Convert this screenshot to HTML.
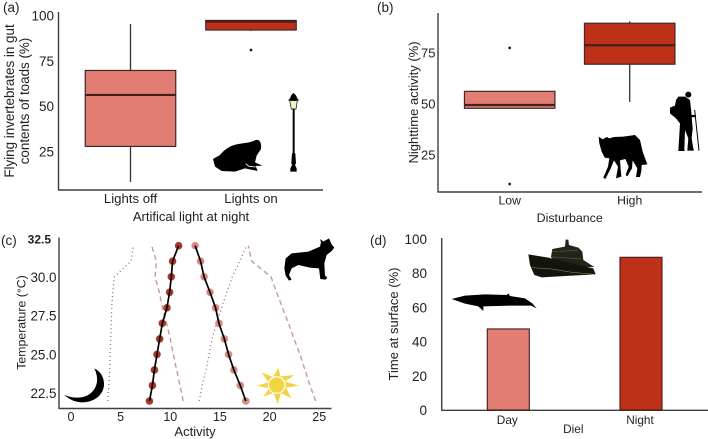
<!DOCTYPE html>
<html lang="en">
<head>
<meta charset="utf-8">
<title>Four-panel ecology chart</title>
<style>
html,body{margin:0;padding:0;background:#fff;width:708px;height:439px;overflow:hidden}
svg{display:block;font-family:"Liberation Sans",Arial,sans-serif;fill:#2b2b2b;filter:blur(0.35px)}
text{fill:#222}
</style>
</head>
<body>
<svg id="figure" xmlns="http://www.w3.org/2000/svg" width="708" height="439" viewBox="0 0 708 439">
  <rect x="0" y="0" width="708" height="439" style="fill:#fff"/>
  <g id="layer-a"></g>
  <g id="layer-b"></g>
  <g id="layer-c"></g>
  <g id="layer-d"></g>

  <g transform="translate(205,85) scale(0.3333)">
    <path style="fill:#000" d="M24,222 L45,210 C60,192 75,182 95,178 C115,174 135,174 152,165 C165,162 170,175 168,192 L155,212 L150,232 L172,242 L152,243 L158,258 L120,250 L90,260 L50,258 L30,245 Z"/>
    <polyline style="fill:none;stroke:#fff;stroke-width:2.5" points="122,236 132,244 152,246"/>
  </g>
  <g transform="translate(205,85) scale(0.3333)">
    <rect style="fill:#000" x="263" y="70" width="6" height="145"/>
    <polygon style="fill:#000" points="261,205 271,205 273,235 270,240 275,250 275,260 256,260 256,250 261,240 259,235"/>
    <polygon style="fill:#000" points="265,24 272,30 278,42 283,46 249,46 255,40 259,30"/>
    <polygon style="fill:#f4f1c6;stroke:#000;stroke-width:2" points="254,47 277,47 273,72 259,72"/>
  </g>
  <g transform="translate(590,85) scale(0.3333)">
    <polygon style="fill:#000" points="26,155 38,163 50,156 58,160 72,156 100,155 135,150 150,165 158,200 172,238 155,240 154,258 150,276 138,276 142,250 128,226 126,250 112,274 107,270 116,245 106,222 90,226 94,275 78,280 84,245 72,226 60,255 46,282 40,278 54,245 58,220 44,218 35,200 28,175"/>
  </g>
  <g transform="translate(590,85) scale(0.3333)">
    <circle style="fill:#000" cx="295" cy="29" r="9"/>
    <polygon style="fill:#000" points="265,35 285,35 300,45 305,90 318,90 318,96 305,97 308,130 305,160 310,190 312,197 292,197 295,160 285,135 283,195 285,198 265,198 268,150 270,115 258,100 240,85 240,68 255,62 258,45"/>
    <line style="stroke:#000;stroke-width:3" x1="314" y1="75" x2="327" y2="197"/>
  </g>
  <g transform="translate(195,235) scale(0.3333)">
    <polygon style="fill:#000" points="375,12 385,20 402,10 410,28 418,38 410,48 395,60 388,85 390,122 397,127 392,134 376,132 372,100 345,98 310,90 290,100 282,120 290,134 282,137 272,122 268,100 272,70 290,55 340,50 375,35 378,22"/>
  </g>
  <g transform="translate(195,235) scale(0.3333)">
    <polygon style="fill:#f2d443" points="250,398 256,424 298,420 270,440 312,452 272,458 290,490 258,474 248,508 236,474 205,485 222,460 185,452 220,442 200,412 234,426"/>
    <circle style="fill:#f2d443;stroke:#fff;stroke-width:3.5" cx="245" cy="450" r="25"/>
  </g>
  <g transform="translate(55,360) scale(0.3333)">
    <path style="fill:#000" d="M118,25 C150,40 158,85 130,110 C105,132 60,135 28,105 C60,118 95,115 112,95 C130,75 130,50 118,25Z"/>
  </g>
  <g transform="translate(445,235) scale(0.3333)">
    <polygon style="fill:#000" points="20,192 60,182 120,178 185,180 190,175 195,183 240,190 262,205 275,220 258,212 200,212 115,214 115,228 100,214 60,206"/>
  </g>
  <g transform="translate(445,235) scale(0.3333)">
    <polygon style="fill:#23231a" points="318,66 322,42 360,35 362,14 370,14 372,30 400,38 412,50 415,75 448,96 400,96 330,80"/>
    <polygon style="fill:#14140e" points="250,58 310,68 380,85 445,100 452,118 380,122 290,127 268,120 255,90"/>
    <polyline style="fill:none;stroke:#9d9866;stroke-width:1.5" points="262,98 320,102 380,112 448,118"/>
    <polyline style="fill:none;stroke:#8f8a5c;stroke-width:2;stroke-dasharray:3 3" points="322,50 400,46"/>
    <polyline style="fill:none;stroke:#8f8a5c;stroke-width:2;stroke-dasharray:3 3" points="322,66 412,72"/>
  </g>
</svg>
<script>
/* Panel (a) */
var lightCategories = ['Lights off', 'Lights on'];
var lightQ1 = [27.8, 92];
var lightMedian = [56.2, 96.7];
var lightQ3 = [69.7, 97.3];
var lightWhiskerLow = [8.2, 91.5];
var lightWhiskerHigh = [95.3, 97.3];
var lightOutliers = [[], [81]];
var lightTicks = [25, 50, 75, 100];

/* Panel (b) */
var disturbanceCategories = ['Low', 'High'];
var disturbanceQ1 = [47.9, 69.5];
var disturbanceMedian = [49.5, 78.8];
var disturbanceQ3 = [56.2, 89.6];
var disturbanceWhiskerLow = [47.9, 51];
var disturbanceWhiskerHigh = [56.2, 90.5];
var disturbanceOutliers = [[77.5, 10.8], []];
var disturbanceTicks = [25, 50, 75];

/* Panel (c) */
var temperatures = [22, 23, 24, 25, 26, 27, 28, 29, 30, 31, 32];
var nightMean = [7.9, 8.2, 8.4, 8.66, 8.93, 9.2, 9.66, 9.93, 10.1, 10.23, 10.84];
var dayMean = [17.6, 17.05, 16.4, 15.87, 15.44, 14.9, 14.56, 14, 13.4, 13.05, 12.5];
var nightLower = [3.7, 3.8, 3.9, 3.95, 4, 4.05, 4.1, 4.2, 4.36, 6.04, 6.28];
var nightUpper = [11.3, 10.98, 10.64, 10.3, 10, 9.63, 9.2, 8.9, 8.46, 8.6, 8.12];
var dayLower = [12.92, 13.2, 13.6, 13.9, 14.2, 14.67, 15.17, 15.68, 16.24, 17, 17.7];
var dayUpper = [24.64, 24.07, 23.56, 23.06, 22.46, 21.9, 21.3, 20.7, 20.14, 18.2, 17.86];
var activityTicks = [0, 5, 10, 15, 20, 25];
var temperatureTicks = ['22.5', '25.0', '27.5', '30.0', '32.5'];

/* Panel (d) */
var dielCategories = ['Day', 'Night'];
var dielValues = [47.4, 89.3];
var surfaceTicks = [0, 20, 40, 60, 80, 100];

var NS = 'http://www.w3.org/2000/svg';
var LIGHT = '#e27d74';
var DARK = '#bd3119';
var AXIS = '#3f3f3f';

function mk(tag, attrs, parent, txt) {
  var node = document.createElementNS(NS, tag);
  for (var k in attrs) node.setAttribute(k, attrs[k]);
  if (txt !== undefined) node.textContent = txt;
  parent.appendChild(node);
  return node;
}
function label(parent, x, y, txt, size, anchor, rotate) {
  var a = {x: x, y: y, 'font-size': size, 'text-anchor': anchor || 'middle'};
  if (rotate) a.transform = 'rotate(-90 ' + x + ' ' + y + ')';
  return mk('text', a, parent, txt);
}

var xA = function (i) { return 130.5 + i * 120.5; };
var yA = function (v) { return 151.5 - (v - 25) * 1.813; };
var xB = function (i) { return 509.7 + i * 120; };
var yB = function (v) { return 155 - (v - 25) * 2.04; };
var xC = function (v) { return 71 + v * 9.93; };
var yC = function (t) { return 401 - (t - 22) * 15.53; };
var xD = function (i) { return 508.3 + i * 132.7; };
var yD = function (v) { return 410 - v * 1.71; };

function drawAxes(g, x0, yTop, yBot, xRight) {
  var el = mk('line', {x1: x0, y1: yTop, x2: x0, y2: yBot + 0.5, stroke: AXIS, 'stroke-width': 1.4}, g);
  
  
  el = mk('line', {x1: x0, y1: yBot, x2: xRight, y2: yBot, stroke: AXIS, 'stroke-width': 1.4}, g);
  
  
}

function drawBoxes(g, cats, q1, med, q3, lo, hi, outs, xf, yf, halfW) {
  var fills = [LIGHT, DARK];
  for (var i = 0; i < cats.length; i++) {
    var cx = xf(i);
    var el = mk('line', {x1: cx, x2: cx, y1: yf(hi[i]), y2: yf(q3[i]), stroke: '#333', 'stroke-width': 1.3}, g);
    
    
    el = mk('line', {x1: cx, x2: cx, y1: yf(q1[i]), y2: yf(lo[i]), stroke: '#333', 'stroke-width': 1.3}, g);
    
    
    el = mk('rect', {x: cx - halfW, width: halfW * 2, y: yf(q3[i]), height: yf(q1[i]) - yf(q3[i]), fill: fills[i], stroke: '#45272a', 'stroke-width': 1.2}, g);
    
    
    el = mk('line', {x1: cx - halfW, x2: cx + halfW, y1: yf(med[i]), y2: yf(med[i]), stroke: '#45201b', 'stroke-width': 2.2}, g);
    
    
    for (var j = 0; j < outs[i].length; j++) {
      el = mk('circle', {cx: cx, cy: yf(outs[i][j]), r: 1.4, fill: '#222'}, g);
      
      
    }
  }
}

/* ---------- panel a ---------- */
(function () {
  var g = document.getElementById('layer-a');
  drawAxes(g, 58.5, 12, 190, 323);
  drawBoxes(g, lightCategories, lightQ1, lightMedian, lightQ3, lightWhiskerLow, lightWhiskerHigh, lightOutliers, xA, yA, 45.25);
  lightTicks.forEach(function (t) {
    var el = label(g, 54, yA(t) + 5, String(t), 13.5, 'end');
    
    
  });
  lightCategories.forEach(function (c, i) {
    var el = label(g, xA(i), 203, c, 13.2);
    
    
  });
  var el = label(g, 191, 221, 'Artifical light at night', 13);
  
  
  el = label(g, 14, 101, 'Flying invertebrates in gut', 13.4, 'middle', true);
  
  
  el = label(g, 29, 101, 'contents of toads (%)', 13.4, 'middle', true);
  
  
  el = label(g, 3, 12, '(a)', 13.5, 'start');
  
  
})();

/* ---------- panel b ---------- */
(function () {
  var g = document.getElementById('layer-b');
  drawAxes(g, 438, 13, 192, 702);
  drawBoxes(g, disturbanceCategories, disturbanceQ1, disturbanceMedian, disturbanceQ3, disturbanceWhiskerLow, disturbanceWhiskerHigh, disturbanceOutliers, xB, yB, 45.25);
  disturbanceTicks.forEach(function (t) {
    var el = label(g, 435.5, yB(t) + 4.5, String(t), 13, 'end');
    
    
  });
  disturbanceCategories.forEach(function (c, i) {
    var el = label(g, xB(i), 204.5, c, 12.2);
    
    
  });
  var el = label(g, 569.7, 222, 'Disturbance', 12.4);
  
  
  el = label(g, 418, 102.5, 'Nighttime activity (%)', 13, 'middle', true);
  
  
  el = label(g, 377, 12, '(b)', 13.5, 'start');
  
  
})();

/* ---------- panel c ---------- */
(function () {
  var g = document.getElementById('layer-c');
  drawAxes(g, 59, 237.5, 408.5, 331.5);
  function pts(vals) {
    return vals.map(function (v, i) { return xC(v) + ',' + yC(temperatures[i]); }).join(' ');
  }
  var el = mk('polyline', {points: pts(nightLower), fill: 'none', stroke: '#9a6a66', 'stroke-width': 1.3, 'stroke-dasharray': '1 3'}, g);
  
  
  el = mk('polyline', {points: pts(nightUpper), fill: 'none', stroke: '#c79a96', 'stroke-width': 1.4, 'stroke-dasharray': '5 3.5'}, g);
  
  
  el = mk('polyline', {points: pts(dayLower), fill: 'none', stroke: '#9a6a66', 'stroke-width': 1.3, 'stroke-dasharray': '1 3'}, g);
  
  
  el = mk('polyline', {points: pts(dayUpper), fill: 'none', stroke: '#c79a96', 'stroke-width': 1.4, 'stroke-dasharray': '5 3.5'}, g);
  
  

  temperatures.forEach(function (t, i) {
    var p = mk('circle', {cx: xC(nightMean[i]), cy: yC(t), r: 3.8, fill: '#a83a2c'}, g);
    
    
    p = mk('circle', {cx: xC(dayMean[i]), cy: yC(t), r: 3.8, fill: '#d98a84'}, g);
    
    
  });
  el = mk('polyline', {points: pts(nightMean), fill: 'none', stroke: '#000', 'stroke-width': 1.7}, g);
  
  
  el = mk('polyline', {points: pts(dayMean), fill: 'none', stroke: '#000', 'stroke-width': 1.7}, g);
  
  

  activityTicks.forEach(function (t) {
    var lab = label(g, xC(t), 421, String(t), 12.5);
    
    
  });
  temperatureTicks.forEach(function (t) {
    var v = parseFloat(t);
    var top = v > 32;
    var lab = label(g, top ? 51 : 56.5, yC(v) + (top ? 5.5 : 5), t, top ? 12 : 13.4, 'end');
    if (top) lab.setAttribute('font-weight', 'bold');
    
    
  });
  el = label(g, 195, 436, 'Activity', 13);
  
  
  el = label(g, 25.5, 322.5, 'Temperature (°C)', 12.3, 'middle', true);
  
  
  el = label(g, 1, 245, '(c)', 13.5, 'start');
  
  
})();

/* ---------- panel d ---------- */
(function () {
  var g = document.getElementById('layer-d');
  drawAxes(g, 441.7, 238, 410.3, 708);
  var fills = [LIGHT, DARK];
  dielCategories.forEach(function (c, i) {
    var bar = mk('rect', {x: xD(i) - 21, width: 42, y: yD(dielValues[i]), height: yD(0) - yD(dielValues[i]), fill: fills[i], stroke: '#4a1a14', 'stroke-width': 1.1}, g);
    
    
    var lab = label(g, xD(i) - 1, 424, c, 11.8);
    
    
  });
  surfaceTicks.forEach(function (t) {
    var lab = label(g, 427, yD(t) + 5, String(t), 13.5, 'end');
    
    
  });
  var el = label(g, 573.3, 433, 'Diel', 11.8);
  
  
  el = label(g, 398, 324, 'Time at surface (%)', 13, 'middle', true);
  
  
  el = label(g, 370, 245, '(d)', 13.5, 'start');
  
  
})();
</script>
</body>
</html>
